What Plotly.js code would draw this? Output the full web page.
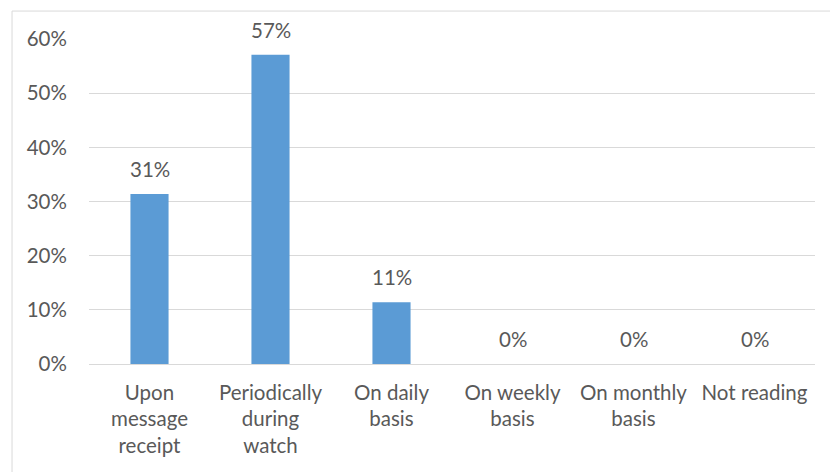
<!DOCTYPE html>
<html>
<head>
<meta charset="utf-8">
<script src="https://cdn.plot.ly/plotly-3.0.1.min.js"></script>
<style>
  html, body { margin: 0; padding: 0; background: #fff; }
  #chart { width: 830px; height: 472px; }
</style>
</head>
<body>
<div id="chart"></div>
<script>
// Reading frequency categories (line breaks as shown under the axis)
const categories = [
  "Upon<br>message<br>receipt",
  "Periodically<br>during<br>watch",
  "On daily<br>basis",
  "On weekly<br>basis",
  "On monthly<br>basis",
  "Not reading"
];
// Share of respondents per category
const shares = [0.314, 0.571, 0.114, 0, 0, 0];
const yTicks = [0, 0.1, 0.2, 0.3, 0.4, 0.5, 0.6];

const textColor = "#595959";
const fontFamily = "Lato, 'Open Sans', sans-serif";
const fontSize = 20.5;

const pct = v => Math.round(v * 100) + "%";

const trace = {
  type: "bar",
  x: categories,
  y: shares,
  marker: { color: "#5b9bd5" },
  hoverinfo: "skip"
};

const labels = categories.map((c, i) => ({
  x: c, y: shares[i], xref: "x", yref: "y",
  text: pct(shares[i]),
  showarrow: false,
  yanchor: "bottom",
  yshift: 11,
  font: { family: fontFamily, size: fontSize, color: textColor }
}));

const layout = {
  width: 830, height: 472,
  margin: { l: 89, r: 15, t: 39, b: 108 },
  paper_bgcolor: "#fff",
  plot_bgcolor: "#fff",
  bargap: 0.685,
  showlegend: false,
  font: { family: fontFamily, size: fontSize, color: textColor },
  xaxis: {
    type: "category",
    showgrid: false,
    showline: true,
    linecolor: "#d9d9d9",
    linewidth: 1,
    ticks: "outside",
    ticklen: 10,
    tickcolor: "rgba(0,0,0,0)",
    tickfont: { family: fontFamily, size: fontSize, color: textColor },
    fixedrange: true
  },
  yaxis: {
    range: [0, 0.6],
    tickvals: yTicks,
    ticktext: yTicks.map(pct),
    showgrid: true,
    gridcolor: "#d9d9d9",
    gridwidth: 1,
    zeroline: false,
    showline: false,
    ticks: "outside",
    ticklen: 17,
    tickcolor: "rgba(0,0,0,0)",
    tickfont: { family: fontFamily, size: fontSize, color: textColor },
    fixedrange: true
  },
  annotations: labels,
  shapes: [{
    type: "rect", xref: "paper", yref: "paper",
    x0: -0.106, x1: 1.05, y0: -0.4, y1: 1.086,
    line: { color: "#d9d9d9", width: 1 },
    fillcolor: "rgba(0,0,0,0)",
    layer: "below"
  }]
};

Plotly.newPlot("chart", [trace], layout, { displayModeBar: false, staticPlot: true });
</script>
</body>
</html>
